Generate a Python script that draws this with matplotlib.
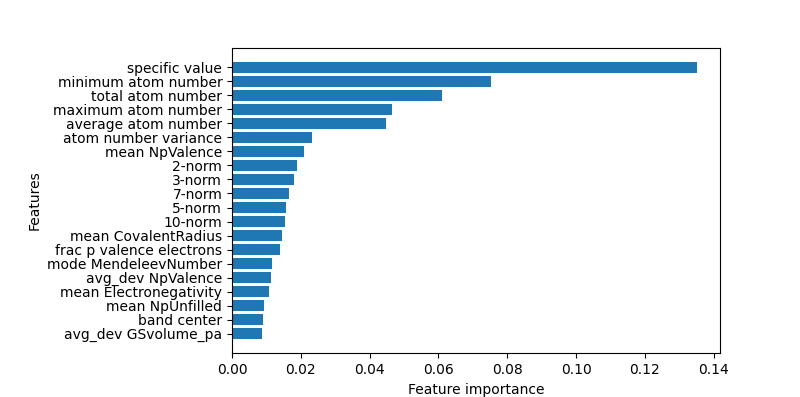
import matplotlib
matplotlib.use("Agg")
import matplotlib.pyplot as plt

features = [
    "specific value", "minimum atom number", "total atom number",
    "maximum atom number", "average atom number", "atom number variance",
    "mean NpValence", "2-norm", "3-norm", "7-norm", "5-norm", "10-norm",
    "mean CovalentRadius", "frac p valence electrons", "mode MendeleevNumber",
    "avg_dev NpValence", "mean Electronegativity", "mean NpUnfilled",
    "band center", "avg_dev GSvolume_pa",
]
importance = [
    0.1351, 0.0752, 0.0610, 0.0465, 0.0447, 0.0234, 0.0209, 0.0189,
    0.0180, 0.0166, 0.0157, 0.0154, 0.0145, 0.0139, 0.0116, 0.0113,
    0.0107, 0.0093, 0.0090, 0.0087,
]

fig, ax = plt.subplots(figsize=(8, 3.97), dpi=100)
fig.subplots_adjust(left=0.29, right=0.9, top=0.88, bottom=0.11)
ax.barh(features[::-1], importance[::-1], color="#1f77b4")
ax.set_xlabel("Feature importance")
ax.set_ylabel("Features")
fig.savefig("out.png", dpi=100)
